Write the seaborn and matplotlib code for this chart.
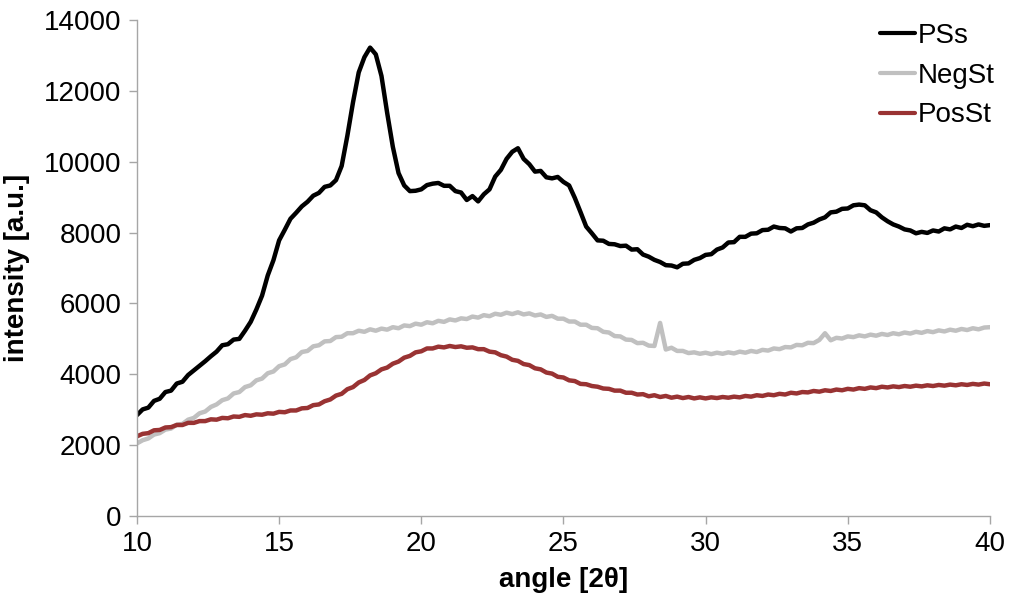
import numpy as np
import pandas as pd
import matplotlib
matplotlib.use("Agg")
import matplotlib.pyplot as plt
import seaborn as sns

# Diffraction angle grid (2-theta, degrees)
angle = np.round(np.arange(10.0, 40.0001, 0.2), 1)

pss = [
    2850, 3010, 3060, 3250, 3310,
    3500, 3540, 3740, 3790, 3980,
    4110, 4240, 4370, 4510, 4640,
    4820, 4850, 4980, 5000, 5230,
    5480, 5830, 6220, 6790, 7220,
    7780, 8080, 8390, 8560, 8740,
    8870, 9040, 9120, 9290, 9330,
    9480, 9880, 10730, 11680, 12520,
    12950, 13220, 13030, 12420, 11380,
    10420, 9680, 9330, 9170, 9180,
    9220, 9340, 9380, 9400, 9320,
    9320, 9170, 9130, 8920, 9030,
    8880, 9080, 9220, 9580, 9770,
    10080, 10280, 10380, 10080, 9930,
    9720, 9740, 9560, 9530, 9570,
    9430, 9330, 8980, 8580, 8170,
    7980, 7780, 7770, 7680, 7670,
    7620, 7630, 7520, 7530, 7380,
    7320, 7230, 7170, 7080, 7070,
    7020, 7120, 7130, 7230, 7280,
    7370, 7390, 7520, 7580, 7720,
    7730, 7880, 7880, 7970, 7980,
    8070, 8080, 8170, 8130, 8120,
    8030, 8120, 8130, 8230, 8280,
    8370, 8430, 8570, 8590, 8670,
    8680, 8770, 8790, 8770, 8630,
    8570, 8430, 8320, 8230, 8170,
    8090, 8060, 7980, 8020, 7990,
    8060, 8030, 8120, 8090, 8170,
    8130, 8220, 8180, 8230, 8190,
    8210,
]

neg_st = [
    2050, 2140, 2190, 2300, 2340,
    2440, 2470, 2580, 2600, 2720,
    2770, 2900, 2950, 3080, 3150,
    3270, 3320, 3460, 3500, 3640,
    3690, 3830, 3880, 4030, 4080,
    4230, 4280, 4430, 4480, 4630,
    4660, 4790, 4820, 4930, 4940,
    5050, 5060, 5160, 5160, 5230,
    5200, 5270, 5230, 5290, 5260,
    5330, 5300, 5380, 5360, 5430,
    5400, 5470, 5440, 5510, 5480,
    5550, 5520, 5580, 5560, 5630,
    5600, 5670, 5640, 5710, 5680,
    5740, 5700, 5750, 5690, 5720,
    5660, 5690, 5620, 5650, 5570,
    5570, 5490, 5490, 5400, 5400,
    5310, 5300, 5200, 5180, 5080,
    5070, 4980, 4970, 4880, 4890,
    4810, 4800, 5450, 4700, 4750,
    4660, 4660, 4600, 4620, 4580,
    4610, 4570, 4610, 4580, 4620,
    4590, 4640, 4610, 4660, 4630,
    4690, 4670, 4730, 4710, 4770,
    4760, 4830, 4820, 4890, 4880,
    4970, 5160, 4960, 5030, 5010,
    5070, 5050, 5100, 5070, 5120,
    5090, 5140, 5110, 5160, 5130,
    5180, 5150, 5200, 5170, 5220,
    5190, 5240, 5210, 5260, 5230,
    5280, 5250, 5300, 5270, 5320,
    5330,
]

pos_st = [
    2250, 2320, 2340, 2420, 2430,
    2500, 2510, 2570, 2570, 2630,
    2630, 2680, 2680, 2730, 2720,
    2770, 2760, 2810, 2800, 2850,
    2830, 2870, 2860, 2900, 2890,
    2940, 2930, 2980, 2980, 3040,
    3050, 3130, 3150, 3240, 3290,
    3400, 3450, 3580, 3640, 3770,
    3840, 3970, 4030, 4140, 4190,
    4300, 4360, 4470, 4520, 4620,
    4650, 4730, 4730, 4780, 4760,
    4800, 4770, 4790, 4750, 4760,
    4710, 4710, 4640, 4620, 4540,
    4500, 4410, 4380, 4290, 4260,
    4170, 4140, 4050, 4020, 3930,
    3910, 3830, 3810, 3730, 3720,
    3670, 3650, 3600, 3590, 3540,
    3540, 3480, 3480, 3430, 3440,
    3380, 3410, 3360, 3390, 3340,
    3370, 3330, 3360, 3320, 3350,
    3320, 3350, 3330, 3360, 3340,
    3370, 3350, 3390, 3370, 3410,
    3390, 3430, 3410, 3450, 3430,
    3480, 3460, 3500, 3490, 3530,
    3510, 3550, 3530, 3570, 3550,
    3590, 3570, 3610, 3590, 3630,
    3610, 3650, 3630, 3660, 3640,
    3670, 3650, 3680, 3660, 3690,
    3670, 3700, 3680, 3710, 3690,
    3720, 3700, 3730, 3710, 3740,
    3720,
]

series_names = ["PSs", "NegSt", "PosSt"]
series_colors = ["#000000", "#c0c0c0", "#993333"]
x_ticks = [10, 15, 20, 25, 30, 35, 40]
y_ticks = [0, 2000, 4000, 6000, 8000, 10000, 12000, 14000]

df = pd.concat(
    [
        pd.DataFrame({"angle": angle, "intensity": vals, "sample": name})
        for name, vals in zip(series_names, [pss, neg_st, pos_st])
    ],
    ignore_index=True,
)

sns.set_style("ticks")
plt.rcParams["font.family"] = ["Liberation Sans Narrow", "Liberation Sans", "DejaVu Sans"]
plt.rcParams["text.color"] = "black"
plt.rcParams["axes.labelcolor"] = "black"

fig = plt.figure(figsize=(10.1, 6.05), dpi=100)
ax = fig.add_axes([0.1356, 0.147, 0.8445, 0.82])

sns.lineplot(
    data=df, x="angle", y="intensity", hue="sample",
    hue_order=series_names, palette=series_colors,
    linewidth=3.2, ax=ax, legend=True,
)

ax.set_xlim(10, 40)
ax.set_ylim(0, 14000)
ax.set_xticks(x_ticks)
ax.set_yticks(y_ticks)
ax.set_xticklabels([str(t) for t in x_ticks])
ax.set_yticklabels([str(t) for t in y_ticks])

axis_grey = "#a6a6a6"
for side in ["top", "right"]:
    ax.spines[side].set_visible(False)
for side in ["left", "bottom"]:
    ax.spines[side].set_color(axis_grey)
    ax.spines[side].set_linewidth(1.0)
ax.tick_params(axis="both", direction="out", length=6, width=1.0,
               color=axis_grey, labelsize=20, labelcolor="black", pad=5)

ax.set_xlabel("angle [2θ]", fontsize=20, fontweight="bold", labelpad=7,
              color="black")
ax.set_ylabel("intensity [a.u.]", fontsize=20, fontweight="bold", labelpad=10,
              color="black")

handles, labels = ax.get_legend_handles_labels()
leg = ax.legend(
    handles, labels, loc="upper right", bbox_to_anchor=(1.035, 1.045),
    frameon=False, fontsize=20, handlelength=1.25, handletextpad=0.12,
    labelspacing=0.5,
)
for h in leg.get_lines():
    h.set_linewidth(3.0)
for t in leg.get_texts():
    t.set_color("black")

fig.savefig("out.png", dpi=100)
